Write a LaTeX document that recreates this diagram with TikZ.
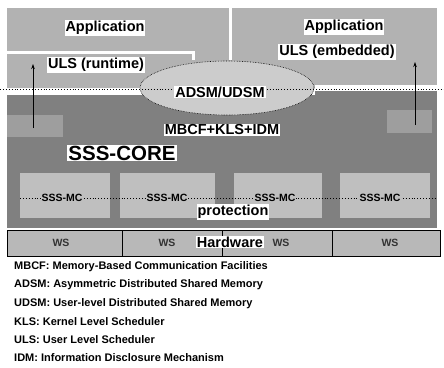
\documentclass[tikz,border=0pt]{standalone}
\usepackage{fontspec}
\setmainfont{Liberation Sans}
\usetikzlibrary{arrows.meta}
\definecolor{topgray}{gray}{0.70}
\definecolor{coregray}{gray}{0.50}
\definecolor{mcgray}{gray}{0.75}
\definecolor{ellgray}{gray}{0.80}
\definecolor{hwgray}{gray}{0.72}
\definecolor{patchgray}{gray}{0.62}
\begin{document}
\begin{tikzpicture}[x=1pt,y=-1pt,
  biglbl/.style={font=\bfseries\fontsize{14.5}{16}\selectfont, fill=white, inner sep=1pt},
  corelbl/.style={font=\bfseries\fontsize{20.5}{22}\selectfont, fill=white, inner sep=1pt},
  mclbl/.style={font=\bfseries\fontsize{10.5}{11}\selectfont, fill=mcgray, inner sep=0.5pt},
  wslbl/.style={font=\bfseries\fontsize{10.5}{11}\selectfont, text=black!80, inner sep=0.5pt},
  legend/.style={font=\bfseries\fontsize{11}{12}\selectfont, anchor=west, inner sep=0pt},
  upar/.style={-{Stealth[length=5pt,width=3.5pt]}, line width=0.8pt},
  dotline/.style={dotted, line width=0.9pt}]
\useasboundingbox (0,0) rectangle (444,367);
\fill[white] (0,0) rectangle (444,367);
% top (application / ULS) area
\fill[topgray] (7,8) rectangle (437,88);
\draw[white, line width=3pt] (7,52) -- (193,52) -- (193,60);
\draw[white, line width=3pt] (230,8) -- (230,60);
% core area
\fill[coregray] (7,95) rectangle (437,228);
\fill[coregray] (315,91) rectangle (437,95);
\fill[white] (315,85) rectangle (437,88.5);
\fill[patchgray] (7,115) rectangle (63,137);
\fill[patchgray] (387,110) rectangle (432,133);
% ADSM/UDSM ellipse
\fill[ellgray] (227,88) ellipse [x radius=87pt, y radius=27pt];
\draw[densely dotted, line width=0.6pt] (227,88) ellipse [x radius=87pt, y radius=27pt];
% dotted boundary line
\coordinate (dl) at (0,89.5);
\coordinate (dr) at (444,89.5);
\draw[dotline] (dl) -- (dr);
% SSS-MC boxes
\fill[mcgray] (20,173) rectangle (110,218);
\fill[mcgray] (120,173) rectangle (215,218);
\fill[mcgray] (234,173) rectangle (322,218);
\fill[mcgray] (340,173) rectangle (430,218);
\coordinate (ml) at (20,198);
\coordinate (mr) at (437,198);
\draw[dotline] (ml) -- (mr);
\node[mclbl] (mc1) at (62,198) {SSS-MC};
\node[mclbl] (mc2) at (167,198) {SSS-MC};
\node[mclbl] (mc3) at (275,198) {SSS-MC};
\node[mclbl] (mc4) at (380,198) {SSS-MC};
% arrows
\coordinate (la0) at (33,128);
\coordinate (la1) at (33,64);
\coordinate (ra0) at (415,125);
\coordinate (ra1) at (415,62);
\draw[upar] (la0) -- (la1);
\draw[upar] (ra0) -- (ra1);
% labels
\node[biglbl] (appl) at (105,28) {Application};
\node[biglbl] (appr) at (344,27) {Application};
\node[biglbl] (ulsr) at (96,65) {ULS (runtime)};
\node[biglbl] (ulse) at (337,52) {ULS (embedded)};
\node[biglbl] (adsm) at (220,92) {ADSM/UDSM};
\node[biglbl] (mbcf) at (222,130) {MBCF+KLS+IDM};
\node[corelbl] (core) at (122,153) {SSS-CORE};
\node[biglbl] (prot) at (233,212) {protection};
% hardware
\draw[fill=hwgray, line width=0.8pt] (7,230) rectangle (440,256);
\draw[line width=0.8pt] (122,230) -- (122,256);
\draw[line width=0.8pt] (222,230) -- (222,256);
\draw[line width=0.8pt] (332,230) -- (332,256);
\node[wslbl] (ws1) at (61,243) {WS};
\node[wslbl] (ws2) at (167,243) {WS};
\node[wslbl] (ws3) at (281,243) {WS};
\node[wslbl] (ws4) at (390,243) {WS};
\node[biglbl] (hw) at (230,242) {Hardware};
% legend
\node[legend] (l1) at (14,267) {MBCF: Memory-Based Communication Facilities};
\node[legend] (l2) at (14,285) {ADSM: Asymmetric Distributed Shared Memory};
\node[legend] (l3) at (14,303.5) {UDSM: User-level Distributed Shared Memory};
\node[legend] (l4) at (14,322) {KLS: Kernel Level Scheduler};
\node[legend] (l5) at (14,340) {ULS: User Level Scheduler};
\node[legend] (l6) at (14,358) {IDM: Information Disclosure Mechanism};
\end{tikzpicture}
\end{document}
